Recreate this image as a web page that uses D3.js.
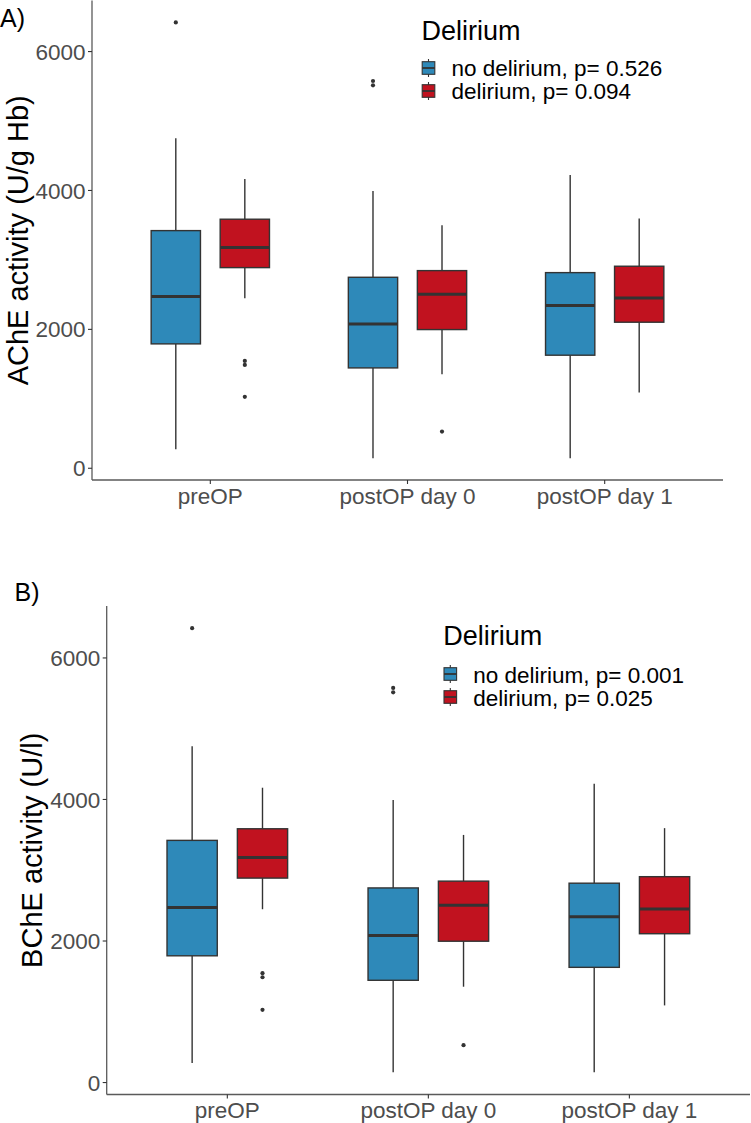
<!DOCTYPE html>
<html>
<head>
<meta charset="utf-8">
<script src="https://cdn.jsdelivr.net/npm/d3@7"></script>
<style>
  html, body { margin: 0; padding: 0; background: #ffffff; }
  svg { display: block; font-family: "Liberation Sans", Arial, Helvetica, sans-serif; }
</style>
</head>
<body>
<svg id="chart" width="751" height="1123"></svg>
<script>
// ---------- data ----------
const categories = ["preOP", "postOP day 0", "postOP day 1"];
const groups = ["no delirium", "delirium"];
const groupColors = ["#2E89B9", "#C1121F"];
const yTicks = [0, 2000, 4000, 6000];

// five-number summaries per category: [lower whisker, Q1, median, Q3, upper whisker]
const noDeliriumStats = [
  [275, 1791, 2472, 3422, 4752],
  [145, 1445, 2079, 2750, 3993],
  [145, 1628, 2342, 2817, 4223]
];
const deliriumStats = [
  [2449, 2889, 3180, 3586, 4166],
  [1354, 1997, 2506, 2846, 3499],
  [1090, 2103, 2453, 2909, 3595]
];
const noDeliriumOutliers = [[6420], [5514, 5576], []];
const deliriumOutliers = [[1028, 1488, 1546], [528], []];

const panelLabels = ["A)", "B)"];
const yTitles = ["AChE activity (U/g Hb)", "BChE activity (U/l)"];
const legendTitle = "Delirium";
const legendLabelsA = ["no delirium, p= 0.526", "delirium, p= 0.094"];
const legendLabelsB = ["no delirium, p= 0.001", "delirium, p= 0.025"];

// ---------- drawing ----------
const svg = d3.select("#chart");
const statsByGroup = [noDeliriumStats, deliriumStats];
const outliersByGroup = [noDeliriumOutliers, deliriumOutliers];

function drawPanel(cfg) {
  const g = svg.append("g");
  const y = d3.scaleLinear().domain([-169, 6734]).range([cfg.bottom, cfg.top]);
  // discrete scale with ggplot-like 0.6 expansion
  const x = d3.scaleLinear().domain([0.4, categories.length + 0.6]).range([cfg.left, cfg.right]);
  const unit = x(2) - x(1);
  const boxW = 0.25 * unit;
  const dodge = 0.175 * unit;

  // axes lines
  g.append("line").attr("x1", cfg.left).attr("x2", cfg.left)
    .attr("y1", cfg.top).attr("y2", cfg.bottom)
    .attr("stroke", "#5a5a5a").attr("stroke-width", 1.3);
  g.append("line").attr("x1", cfg.left).attr("x2", cfg.right)
    .attr("y1", cfg.bottom).attr("y2", cfg.bottom)
    .attr("stroke", "#5a5a5a").attr("stroke-width", 1.3);

  // y ticks
  yTicks.forEach(t => {
    g.append("line").attr("x1", cfg.left - 4).attr("x2", cfg.left)
      .attr("y1", y(t)).attr("y2", y(t)).attr("stroke", "#333").attr("stroke-width", 1.1);
    g.append("text").attr("x", cfg.left - 6.5).attr("y", y(t))
      .attr("dy", "0.36em").attr("text-anchor", "end")
      .attr("font-size", 22.5).attr("fill", "#4d4d4d").text(d3.format("d")(t));
  });
  // x ticks
  categories.forEach((c, i) => {
    const cx = x(i + 1);
    g.append("line").attr("x1", cx).attr("x2", cx)
      .attr("y1", cfg.bottom).attr("y2", cfg.bottom + 4).attr("stroke", "#333").attr("stroke-width", 1.1);
    g.append("text").attr("x", cx).attr("y", cfg.bottom + 23.5)
      .attr("text-anchor", "middle").attr("font-size", 22.5).attr("fill", "#4d4d4d").text(c);
  });

  // boxes
  groups.forEach((grp, gi) => {
    const off = gi === 0 ? -dodge : dodge;
    statsByGroup[gi].forEach((s, ci) => {
      const cx = x(ci + 1) + off;
      const [lo, q1, med, q3, hi] = s;
      g.append("line").attr("x1", cx).attr("x2", cx).attr("y1", y(hi)).attr("y2", y(q3))
        .attr("stroke", "#333").attr("stroke-width", 1.4);
      g.append("line").attr("x1", cx).attr("x2", cx).attr("y1", y(q1)).attr("y2", y(lo))
        .attr("stroke", "#333").attr("stroke-width", 1.4);
      g.append("rect").attr("x", cx - boxW / 2).attr("width", boxW)
        .attr("y", y(q3)).attr("height", y(q1) - y(q3))
        .attr("fill", groupColors[gi]).attr("stroke", "#333").attr("stroke-width", 1.4);
      g.append("line").attr("x1", cx - boxW / 2).attr("x2", cx + boxW / 2)
        .attr("y1", y(med)).attr("y2", y(med)).attr("stroke", "#333").attr("stroke-width", 3);
      outliersByGroup[gi][ci].forEach(v => {
        g.append("circle").attr("cx", cx).attr("cy", y(v)).attr("r", 2.1).attr("fill", "#333");
      });
    });
  });

  // panel label
  g.append("text").attr("x", cfg.labelX).attr("y", cfg.labelY).attr("font-size", 25)
    .attr("fill", "#000").text(cfg.label);

  // y title
  const yc = (cfg.top + cfg.bottom) / 2;
  g.append("text").attr("transform", `translate(${cfg.titleX},${yc}) rotate(-90)`)
    .attr("text-anchor", "middle").attr("font-size", 29).attr("fill", "#000").text(cfg.yTitle);

  // legend
  const lg = g.append("g");
  lg.append("text").attr("x", cfg.legX).attr("y", cfg.legTitleY).attr("font-size", 27)
    .attr("fill", "#000").text(legendTitle);
  cfg.legLabels.forEach((lab, i) => {
    const kc = cfg.legKeyY[i];
    const kx = cfg.legX + 7;
    lg.append("line").attr("x1", kx).attr("x2", kx).attr("y1", kc - 9).attr("y2", kc + 9)
      .attr("stroke", "#333").attr("stroke-width", 1.1);
    lg.append("rect").attr("x", kx - 6.3).attr("width", 12.6).attr("y", kc - 6.3).attr("height", 12.6)
      .attr("fill", groupColors[i]).attr("stroke", "#333").attr("stroke-width", 1.1);
    lg.append("line").attr("x1", kx - 6.3).attr("x2", kx + 6.3).attr("y1", kc).attr("y2", kc)
      .attr("stroke", "#333").attr("stroke-width", 1.8);
    lg.append("text").attr("x", cfg.legTextX).attr("y", cfg.legTextY[i]).attr("font-size", 22.5)
      .attr("fill", "#000").text(lab);
  });
}

drawPanel({
  left: 92, right: 723, top: 0.6, bottom: 480,
  label: panelLabels[0], labelX: 0, labelY: 26.5,
  yTitle: yTitles[0], titleX: 27.5,
  legX: 421.5, legTitleY: 39.5, legKeyY: [68, 91], legTextX: 451.5, legTextY: [75.5, 98.5],
  legLabels: legendLabelsA
});
drawPanel({
  left: 106.7, right: 750, top: 606, bottom: 1094.5,
  label: panelLabels[1], labelX: 14.5, labelY: 600.5,
  yTitle: yTitles[1], titleX: 41.5,
  legX: 443.3, legTitleY: 645, legKeyY: [674, 697], legTextX: 473.3, legTextY: [682.5, 705.5],
  legLabels: legendLabelsB
});
</script>
</body>
</html>
